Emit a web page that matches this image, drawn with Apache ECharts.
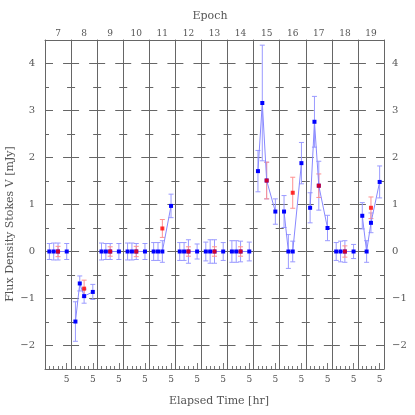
<!DOCTYPE html>
<html>
<head>
<meta charset="utf-8">
<script src="https://cdn.jsdelivr.net/npm/echarts@6/dist/echarts.min.js"></script>
<style>
  html, body { margin: 0; padding: 0; background: #fff; }
  #chart { width: 415px; height: 415px; }
</style>
</head>
<body>
<div id="chart"></div>
<script>
// one panel per epoch
const epochs = [7, 8, 9, 10, 11, 12, 13, 14, 15, 16, 17, 18, 19];
// sample times inside each epoch (hr)
const sampleHours = [1, 2, 3, 5];
// blue points, Stokes V (mJy), one row per epoch
const blueFlux = [
  [0, 0, 0, 0],
  [-1.49, -0.68, -0.95, -0.86],
  [0, 0, 0, 0],
  [0, 0, 0, 0],
  [0, 0, 0, 0.97],
  [0, 0, 0, 0],
  [0, 0, 0, 0],
  [0, 0, 0, 0],
  [1.71, 3.16, 1.51, 0.85],
  [0.85, 0, 0, 1.88],
  [0.93, 2.76, 1.40, 0.50],
  [0, 0, 0, 0],
  [0.76, 0, 0.61, 1.48]
];
const blueErr = [
  [0.17, 0.18, 0.18, 0.17],
  [0.42, 0.16, 0.15, 0.16],
  [0.18, 0.17, 0.17, 0.17],
  [0.18, 0.18, 0.17, 0.17],
  [0.19, 0.19, 0.23, 0.25],
  [0.19, 0.19, 0.25, 0.16],
  [0.20, 0.25, 0.25, 0.19],
  [0.23, 0.23, 0.22, 0.20],
  [0.44, 1.23, 0.39, 0.27],
  [0.34, 0.36, 0.22, 0.44],
  [0.32, 0.54, 0.52, 0.27],
  [0.19, 0.22, 0.23, 0.15],
  [0.28, 0.23, 0.21, 0.34]
];
// red points: one per epoch, at 3 hr
const redHour = 3;
const redFlux = [0, -0.79, 0, 0, 0.49, 0, 0, 0, 1.51, 1.25, 1.40, 0, 0.93];
const redErr = [0.11, 0.18, 0.10, 0.11, 0.19, 0.10, 0.10, 0.10, 0.39, 0.33, 0.25, 0.12, 0.23];
// tick values
const yTicks = [-2, -1, 0, 1, 2, 3, 4];
const yHalfTicks = [-1.5, -0.5, 0.5, 1.5, 2.5, 3.5];
const xMinorTicks = [1, 2, 3, 4];
const xMajorTicks = [5];

const chart = echarts.init(document.getElementById('chart'));
const font = 'DejaVu Serif';
const textGray = '#555';
const frameGray = '#666';
const plotLeft = 45, plotRight = 384, plotTop = 40, plotBottom = 369;
const panelW = (plotRight - plotLeft) / epochs.length;

// vertical error bar with small caps
const errorBar = (color) => (params, api) => {
  const x = api.value(0), y = api.value(1), e = api.value(2);
  const top = api.coord([x, y + e]);
  const bot = api.coord([x, y - e]);
  const cap = 2.5;
  const style = { stroke: color, lineWidth: 1 };
  return {
    type: 'group',
    children: [
      { type: 'line', shape: { x1: top[0], y1: top[1], x2: bot[0], y2: bot[1] }, style },
      { type: 'line', shape: { x1: top[0] - cap, y1: top[1], x2: top[0] + cap, y2: top[1] }, style },
      { type: 'line', shape: { x1: bot[0] - cap, y1: bot[1], x2: bot[0] + cap, y2: bot[1] }, style }
    ]
  };
};

const grid = [], xAxis = [], yAxis = [], series = [];
const frameLine = { show: true, onZero: false, lineStyle: { color: frameGray, width: 1 } };
const noLine = { show: false, onZero: false };

epochs.forEach((ep, i) => {
  grid.push({ left: plotLeft + i * panelW, width: panelW, top: plotTop, height: plotBottom - plotTop });

  const xBase = { gridIndex: i, type: 'value', min: 0, max: 6, splitLine: { show: false } };
  xAxis.push({ ...xBase, position: 'bottom', axisLine: frameLine,
    axisTick: { inside: true, length: 3, customValues: xMinorTicks, lineStyle: { color: '#777' } },
    axisLabel: { show: false } });
  xAxis.push({ ...xBase, position: 'bottom', axisLine: noLine,
    axisTick: { inside: true, length: 6, customValues: xMajorTicks, lineStyle: { color: '#777' } },
    axisLabel: { customValues: xMajorTicks, margin: 6, fontSize: 9, color: textGray, fontFamily: font } });
  xAxis.push({ ...xBase, position: 'top', axisLine: frameLine, axisTick: { show: false }, axisLabel: { show: false },
    name: String(ep), nameLocation: 'middle', nameGap: 2,
    nameTextStyle: { fontSize: 9, color: textGray, fontFamily: font } });

  const yBase = { gridIndex: i, type: 'value', min: -2.5, max: 4.5, splitLine: { show: false } };
  ['left', 'right'].forEach(pos => {
    const labelled = (pos === 'left' && i === 0) || (pos === 'right' && i === epochs.length - 1);
    const drawLine = pos === 'left' || i === epochs.length - 1;
    yAxis.push({ ...yBase, position: pos, axisLine: drawLine ? frameLine : noLine,
      axisTick: { inside: true, length: 8, customValues: yTicks, lineStyle: { color: frameGray } },
      axisLabel: labelled ? {
        customValues: yTicks, margin: pos === 'left' ? 10 : 8, fontSize: 10, color: textGray, fontFamily: font,
        formatter: v => String(v).replace('-', '\u2212')
      } : { show: false } });
    yAxis.push({ ...yBase, position: pos, axisLine: noLine,
      axisTick: { inside: true, length: 4, customValues: yHalfTicks, lineStyle: { color: frameGray } },
      axisLabel: { show: false } });
  });

  const xi = i * 3, yi = i * 4;
  const blue = sampleHours.map((h, k) => [h, blueFlux[i][k], blueErr[i][k]]);
  series.push({
    type: 'custom', xAxisIndex: xi, yAxisIndex: yi, renderItem: errorBar('#9a9aff'),
    encode: { x: 0, y: 1 }, data: blue, z: 2, silent: true
  });
  series.push({
    type: 'custom', xAxisIndex: xi, yAxisIndex: yi, renderItem: errorBar('#ff9090'),
    encode: { x: 0, y: 1 }, data: [[redHour, redFlux[i], redErr[i]]], z: 2, silent: true
  });
  series.push({
    type: 'line', xAxisIndex: xi, yAxisIndex: yi, data: blue.map(d => [d[0], d[1]]),
    symbol: 'rect', symbolSize: 4, showSymbol: true,
    lineStyle: { color: '#8888ff', width: 1 }, itemStyle: { color: '#0000ff' },
    z: 3, silent: true
  });
  series.push({
    type: 'scatter', xAxisIndex: xi, yAxisIndex: yi, data: [[redHour, redFlux[i]]],
    symbol: 'rect', symbolSize: 4, itemStyle: { color: '#ff0000' }, z: 4, silent: true
  });
});

chart.setOption({
  animation: false,
  grid, xAxis, yAxis, series,
  graphic: [
    { type: 'text', x: 210, y: 16, style: { text: 'Epoch', font: '11px "DejaVu Serif"', fill: textGray, align: 'center', verticalAlign: 'middle' } },
    { type: 'text', x: 219, y: 401, style: { text: 'Elapsed Time [hr]', font: '11px "DejaVu Serif"', fill: textGray, align: 'center', verticalAlign: 'middle' } },
    { type: 'text', x: 10, y: 224, rotation: Math.PI / 2, style: { text: 'Flux Density Stokes V [mJy]', font: '11px "DejaVu Serif"', fill: textGray, align: 'center', verticalAlign: 'middle' } }
  ]
});
</script>
</body>
</html>
